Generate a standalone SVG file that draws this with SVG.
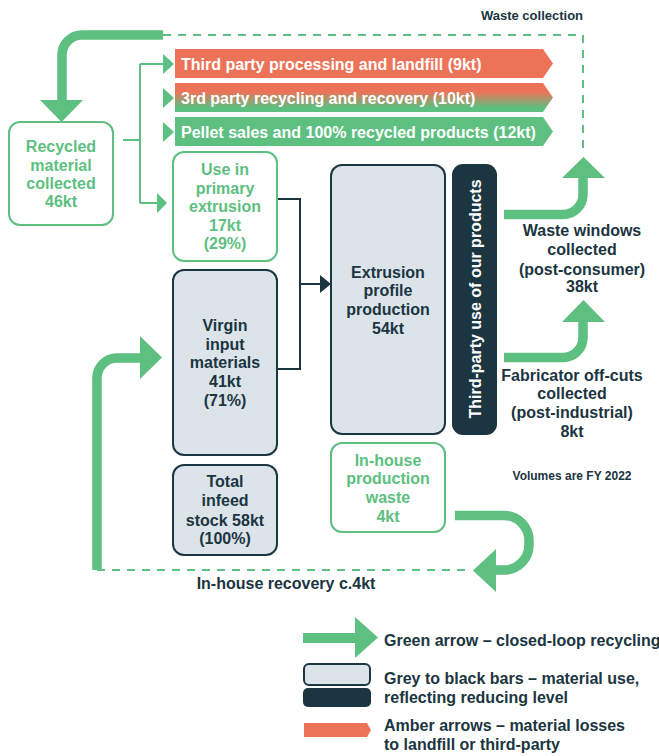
<svg xmlns="http://www.w3.org/2000/svg" width="659" height="756" viewBox="0 0 659 756">
<defs>
<style>
text{font-family:"Liberation Sans",Arial,sans-serif;font-weight:bold;}
.t{font-size:16px;text-anchor:middle;}
.g{fill:#5dbf80;}
.d{fill:#1b3541;}
.w{fill:#ffffff;}
.gbox{fill:#ffffff;stroke:#5dbf80;stroke-width:2;}
.grey{fill:#dce4ea;stroke:#1b3541;stroke-width:2;}
.big{fill:none;stroke:#5dbf80;stroke-width:9.5;}
.dash{fill:none;stroke:#5dbf80;stroke-width:2;stroke-dasharray:8 7;}
.thin{fill:none;stroke:#5dbf80;stroke-width:2;}
.dk{fill:none;stroke:#1b3541;stroke-width:2;}
</style>
<linearGradient id="amb" x1="0" y1="0" x2="0" y2="1">
<stop offset="0.3" stop-color="#ed7358"/>
<stop offset="0.85" stop-color="#5dbf80"/>
</linearGradient>
</defs>
<rect width="659" height="756" fill="#ffffff"/>

<g id="connectors">
<!-- dashed waste collection loop -->
<path class="dash" d="M163,35 H583 V152"/>
<path class="dash" d="M97,570 H465"/>
<!-- top big arrow -->
<path class="big" d="M163,35 H82 A20,20 0 0 0 62,55 V101"/>
<polygon class="g" points="40,100 83,100 61.5,122"/>
<!-- waste windows arrow -->
<path class="big" d="M504,214.5 H563 A20,20 0 0 0 583,194.5 V177"/>
<polygon class="g" points="562,178 605,178 583.5,157"/>
<!-- fabricator arrow -->
<path class="big" d="M504,357.5 H563 A20,20 0 0 0 583,337.5 V321"/>
<polygon class="g" points="562,322 605,322 583.5,300"/>
<!-- in-house recovery arrow -->
<path class="big" d="M455,515.5 H504 A25,25 0 0 1 529,540.5 V545 A25,25 0 0 1 504,570 H494"/>
<polygon class="g" points="496,549 496,592 473,570.5"/>
<!-- left up arrow -->
<path class="big" d="M97,570 V378 A20,20 0 0 1 117,358 H141"/>
<polygon class="g" points="140,336 140,379 162,357.5"/>
<!-- thin green distribution -->
<path class="thin" d="M123,140 H140 M140,64 V203 M140,64 H164 M140,203 H158"/>
<polygon class="g" points="163,54 174,64 163,74"/>
<polygon class="g" points="163,88 174,98 163,108"/>
<polygon class="g" points="163,122 174,132 163,142"/>
<polygon class="g" points="157,193 167,203 157,213"/>
<!-- dark connector to extrusion -->
<path class="dk" d="M277,199 H300 V369 H277 M300,284 H321"/>
<polygon class="d" points="320,275 331,284 320,293"/>
</g>

<g id="bar-landfill">
<polygon fill="#ed7358" points="175,49 543,49 553,63.5 543,78 175,78"/>
<text class="w" x="181" y="69.5" font-size="16">Third party processing and landfill (9kt)</text>
</g>
<g id="bar-recycling">
<polygon fill="url(#amb)" points="175,83 543,83 553,97.5 543,112 175,112"/>
<text class="w" x="181" y="103.5" font-size="16">3rd party recycling and recovery (10kt)</text>
</g>
<g id="bar-pellet">
<polygon fill="#5dbf80" points="175,117 543,117 553,131.5 543,146 175,146"/>
<text class="w" x="181" y="137.5" font-size="16">Pellet sales and 100% recycled products (12kt)</text>
</g>

<g id="recycled">
<rect class="gbox" x="9" y="122" width="104" height="103" rx="11"/>
<text class="t g" x="61" y="152">Recycled</text>
<text class="t g" x="61" y="171">material</text>
<text class="t g" x="61" y="189">collected</text>
<text class="t g" x="61" y="207">46kt</text>
</g>

<g id="primary">
<rect class="gbox" x="173" y="152" width="104" height="109" rx="11"/>
<text class="t g" x="225" y="175">Use in</text>
<text class="t g" x="225" y="194">primary</text>
<text class="t g" x="225" y="212">extrusion</text>
<text class="t g" x="225" y="231">17kt</text>
<text class="t g" x="225" y="249">(29%)</text>
</g>

<g id="virgin">
<rect class="grey" x="173" y="270" width="104" height="185" rx="11"/>
<text class="t d" x="225" y="331">Virgin</text>
<text class="t d" x="225" y="350">input</text>
<text class="t d" x="225" y="368">materials</text>
<text class="t d" x="225" y="387">41kt</text>
<text class="t d" x="225" y="406">(71%)</text>
</g>

<g id="infeed">
<rect class="grey" x="173" y="465" width="104" height="90" rx="11"/>
<text class="t d" x="225" y="487">Total</text>
<text class="t d" x="225" y="506">infeed</text>
<text class="t d" x="225" y="526">stock 58kt</text>
<text class="t d" x="225" y="544">(100%)</text>
</g>

<g id="extrusion">
<rect class="grey" x="331" y="165" width="114" height="269" rx="11"/>
<text class="t d" x="388" y="278">Extrusion</text>
<text class="t d" x="388" y="296">profile</text>
<text class="t d" x="388" y="315">production</text>
<text class="t d" x="388" y="334">54kt</text>
</g>

<g id="third-party">
<rect x="452" y="164" width="45" height="271" rx="11" fill="#1b3541"/>
<text class="t w" transform="translate(480.5,299) rotate(-90)" x="0" y="0">Third-party use of our products</text>
</g>

<g id="inhouse-waste">
<rect class="gbox" x="331" y="443" width="114" height="89" rx="11"/>
<text class="t g" x="388" y="466">In-house</text>
<text class="t g" x="388" y="484">production</text>
<text class="t g" x="388" y="503">waste</text>
<text class="t g" x="388" y="522">4kt</text>
</g>

<g id="waste-windows">
<text class="t d" x="582" y="236">Waste windows</text>
<text class="t d" x="582" y="255">collected</text>
<text class="t d" x="582" y="275">(post-consumer)</text>
<text class="t d" x="582" y="292">38kt</text>
</g>

<g id="fabricator">
<text class="t d" x="572" y="381">Fabricator off-cuts</text>
<text class="t d" x="572" y="399">collected</text>
<text class="t d" x="572" y="418">(post-industrial)</text>
<text class="t d" x="572" y="437">8kt</text>
</g>

<g id="labels">
<text class="d" x="532" y="20" font-size="13" text-anchor="middle">Waste collection</text>
<text class="d" x="572" y="480" font-size="12" text-anchor="middle">Volumes are FY 2022</text>
<text class="d" x="286" y="589" font-size="16" text-anchor="middle">In-house recovery c.4kt</text>
</g>

<g id="legend">
<rect x="303" y="633" width="54" height="10" fill="#5dbf80"/>
<polygon class="g" points="355,617 355,658 378,637.5"/>
<text class="d" x="384" y="646" font-size="16">Green arrow – closed-loop recycling</text>
<rect class="grey" x="304" y="664" width="66" height="21" rx="5"/>
<rect x="303" y="688" width="68" height="19" rx="5" fill="#1b3541"/>
<text class="d" x="384" y="684" font-size="16">Grey to black bars – material use,</text>
<text class="d" x="384" y="703" font-size="16">reflecting reducing level</text>
<polygon fill="#ed7358" points="304,723 367,723 371,730 367,737 304,737"/>
<text class="d" x="384" y="731" font-size="16">Amber arrows – material losses</text>
<text class="d" x="384" y="750" font-size="16">to landfill or third-party</text>
</g>
</svg>
